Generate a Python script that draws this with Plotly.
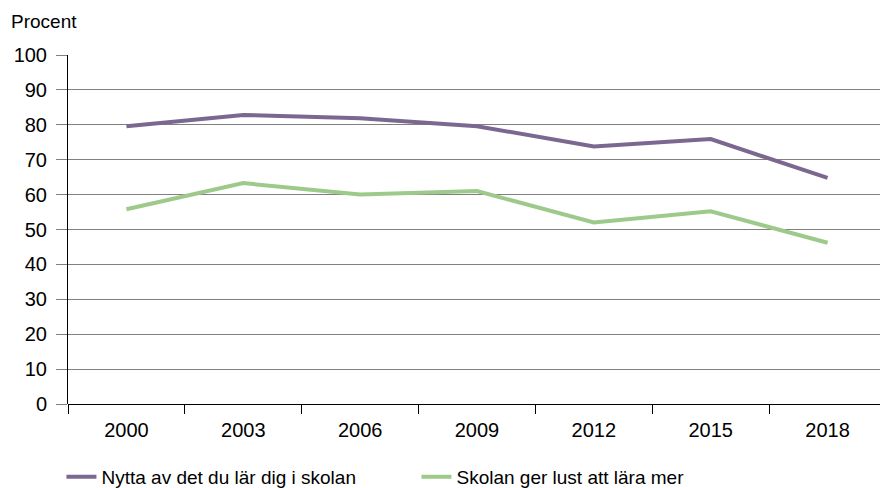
import plotly.graph_objects as go

years = ["2000", "2003", "2006", "2009", "2012", "2015", "2018"]
nytta = [79.6, 82.8, 81.9, 79.6, 73.8, 75.9, 64.8]
lust = [55.8, 63.3, 60.0, 61.0, 52.0, 55.2, 46.2]

font_family = "Liberation Sans, Arial, sans-serif"

fig = go.Figure()

fig.add_trace(go.Scatter(
    x=years, y=nytta,
    mode="lines",
    name="Nytta av det du lär dig i skolan",
    line=dict(color="#7b6890", width=4),
))
fig.add_trace(go.Scatter(
    x=years, y=lust,
    mode="lines",
    name="Skolan ger lust att lära mer",
    line=dict(color="#9dca8b", width=4),
))

# page body has an 8px default margin, so the figure is sized to fit inside it
fig.update_layout(
    width=880, height=480,
    margin=dict(l=60, r=2, t=47, b=84, autoexpand=False),
    paper_bgcolor="white",
    plot_bgcolor="white",
    font=dict(family=font_family, size=19, color="black"),
    showlegend=True,
    legend=dict(
        orientation="h",
        x=-0.008, xanchor="left",
        y=-0.209, yanchor="middle",
        font=dict(size=19),
        bgcolor="rgba(0,0,0,0)",
        itemwidth=30,
        entrywidth=310,
        tracegroupgap=0,
    ),
    annotations=[dict(
        text="Procent", xref="paper", yref="paper",
        x=-0.072, y=1.095, xanchor="left", yanchor="middle",
        showarrow=False, font=dict(size=19),
    )],
)

fig.update_xaxes(
    type="category",
    tickson="boundaries",
    ticks="outside", ticklen=9, tickcolor="black",
    ticklabelstandoff=12,
    tickfont=dict(size=20),
    showline=False, showgrid=False,
    range=[-0.5, 6.5],
    automargin=False,
)
fig.update_yaxes(
    range=[0, 100], dtick=10,
    ticks="outside", ticklen=11, tickcolor="#808080",
    ticklabelstandoff=5,
    tickfont=dict(size=20),
    showgrid=True, gridcolor="#808080", gridwidth=1,
    showline=True, linecolor="black", linewidth=1,
    zeroline=True, zerolinecolor="black", zerolinewidth=1,
    automargin=False,
)

fig.write_html("out.html")
